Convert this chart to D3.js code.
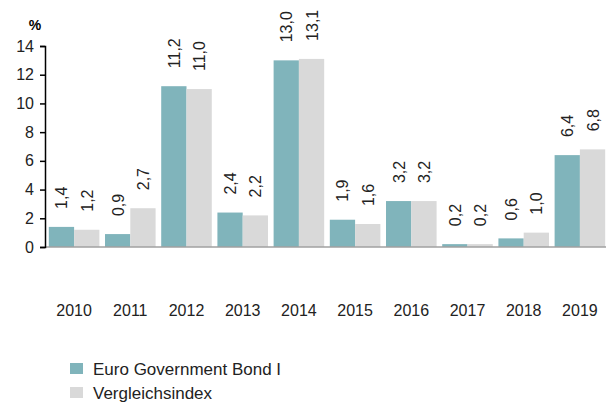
<!DOCTYPE html>
<html>
<head>
<meta charset="utf-8">
<script src="https://cdn.jsdelivr.net/npm/d3@7"></script>
<style>
  body { margin: 0; background: #fff; }
  svg { display: block; }
</style>
</head>
<body>
<div id="chart"></div>
<script>
  // data
  const years = ["2010", "2011", "2012", "2013", "2014", "2015", "2016", "2017", "2018", "2019"];
  const fund = [1.4, 0.9, 11.2, 2.4, 13.0, 1.9, 3.2, 0.2, 0.6, 6.4];
  const bench = [1.2, 2.7, 11.0, 2.2, 13.1, 1.6, 3.2, 0.2, 1.0, 6.8];
  const seriesNames = ["Euro Government Bond I", "Vergleichsindex"];
  const colors = ["#80b4bb", "#d9d9d9"];
  const yTicks = [0, 2, 4, 6, 8, 10, 12, 14];

  const width = 606, height = 403;
  const font = "'Liberation Sans', Arial, sans-serif";

  const svg = d3.select("#chart").append("svg")
    .attr("width", width)
    .attr("height", height)
    .attr("font-family", font);

  const x = d3.scaleBand().domain(years).range([46, 608]).paddingInner(0.1).paddingOuter(0.05);
  const x1 = d3.scaleBand().domain([0, 1]).range([0, x.bandwidth()]);
  const y = d3.scaleLinear().domain([0, 14]).range([247, 46]);

  const rows = years.map((yr, i) => ({ year: yr, values: [fund[i], bench[i]] }));

  // bars
  const g = svg.append("g")
    .selectAll("g")
    .data(rows)
    .join("g")
    .attr("transform", (d) => `translate(${x(d.year)},0)`);

  g.selectAll("rect")
    .data((d) => d.values)
    .join("rect")
    .attr("x", (d, i) => x1(i))
    .attr("y", (d) => y(d))
    .attr("width", x1.bandwidth())
    .attr("height", (d) => y(0) - y(d))
    .attr("fill", (d, i) => colors[i]);

  // value labels (rotated)
  g.selectAll("text")
    .data((d) => d.values)
    .join("text")
    .attr("transform", (d, i) => `translate(${x1(i) + x1.bandwidth() / 2 + 6},${y(d) - 18}) rotate(-90)`)
    .attr("font-size", 16)
    .attr("fill", "#222")
    .text((d) => d.toFixed(1).replace(".", ","));

  // x baseline
  svg.append("line")
    .attr("x1", 46).attr("x2", 606)
    .attr("y1", y(0)).attr("y2", y(0))
    .attr("stroke", "#a0a0a0").attr("stroke-width", 1.5);

  // y axis
  const yAxis = svg.append("g")
    .attr("transform", "translate(45,0)")
    .call(d3.axisLeft(y).tickValues(yTicks).tickSize(5).tickPadding(6));
  yAxis.select(".domain").attr("stroke", "#000").attr("stroke-width", 1.5);
  yAxis.selectAll(".tick line").attr("stroke", "#000").attr("stroke-width", 1.5);
  yAxis.selectAll(".tick text").attr("font-size", 16).attr("font-family", font).attr("fill", "#222");

  svg.append("text")
    .attr("x", 35).attr("y", 30)
    .attr("text-anchor", "middle")
    .attr("font-size", 14).attr("font-weight", "bold")
    .text("%");

  // year labels
  svg.append("g")
    .selectAll("text")
    .data(years)
    .join("text")
    .attr("x", (d) => x(d) + x.bandwidth() / 2)
    .attr("y", 316)
    .attr("text-anchor", "middle")
    .attr("font-size", 16)
    .attr("fill", "#222")
    .text((d) => d);

  // legend
  const legend = svg.append("g")
    .selectAll("g")
    .data(seriesNames)
    .join("g")
    .attr("transform", (d, i) => `translate(70,${363 + i * 24})`);
  legend.append("rect")
    .attr("width", 13).attr("height", 11)
    .attr("fill", (d, i) => colors[i]);
  legend.append("text")
    .attr("x", 23).attr("y", 12)
    .attr("font-size", 17)
    .attr("fill", "#222")
    .text((d) => d);
</script>
</body>
</html>
